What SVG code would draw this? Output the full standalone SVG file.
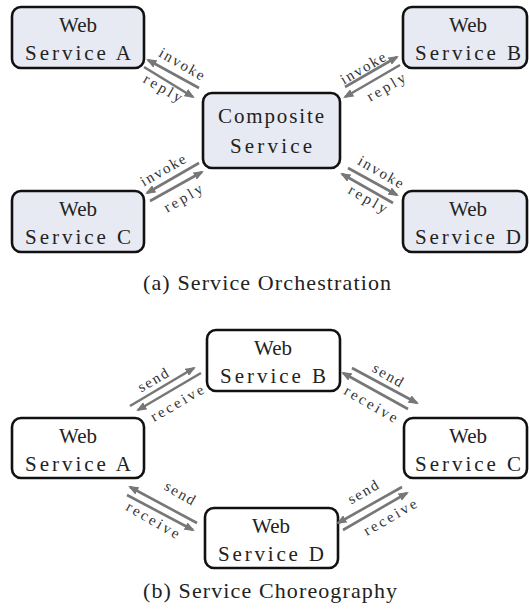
<svg xmlns="http://www.w3.org/2000/svg" width="529" height="611" viewBox="0 0 529 611">
<style>
.box{stroke:#111;stroke-width:2.6}
.a .box{fill:#e7eaf2}
.b .box{fill:#fff}
.nt{font-family:"Liberation Serif","DejaVu Serif",serif;font-size:21px;fill:#222;text-anchor:middle}
.lbl{font-family:"Liberation Serif","DejaVu Serif",serif;font-size:15px;fill:#333;text-anchor:middle}
.cap{font-family:"Liberation Serif","DejaVu Serif",serif;font-size:22px;fill:#222;text-anchor:middle}
.ar{stroke:#777;stroke-width:2.6;fill:none;marker-end:url(#ah)}
</style>
<defs>
<marker id="ah" viewBox="0 0 10 8" refX="8" refY="4" markerWidth="4" markerHeight="3.2" orient="auto" markerUnits="strokeWidth">
<path d="M0,0 L10,4 L0,8 z" fill="#777"/>
</marker>
</defs>
<rect width="529" height="611" fill="#fff"/>
<!-- Part (a) -->
<g class="a">
<g id="a-ws-a"><rect class="box" x="12" y="7" width="132" height="61" rx="9"/><text class="nt" x="78" y="32">Web</text><text class="nt" x="78" y="60" textLength="106" lengthAdjust="spacing">Service A</text></g>
<g id="a-ws-b"><rect class="box" x="403" y="7" width="124" height="61" rx="9"/><text class="nt" x="468" y="32">Web</text><text class="nt" x="468" y="60" textLength="106" lengthAdjust="spacing">Service B</text></g>
<g id="a-composite"><rect class="box" x="203" y="93" width="137" height="75" rx="9"/><text class="nt" x="271" y="123" textLength="106" lengthAdjust="spacing">Composite</text><text class="nt" x="271" y="153" textLength="82" lengthAdjust="spacing">Service</text></g>
<g id="a-ws-c"><rect class="box" x="12" y="191" width="132" height="61" rx="9"/><text class="nt" x="78" y="216">Web</text><text class="nt" x="78" y="244" textLength="106" lengthAdjust="spacing">Service C</text></g>
<g id="a-ws-d"><rect class="box" x="403" y="191" width="124" height="61" rx="9"/><text class="nt" x="468" y="216">Web</text><text class="nt" x="468" y="244" textLength="106" lengthAdjust="spacing">Service D</text></g>
</g>
<g id="a-connectors">
<line class="ar" x1="199" y1="88" x2="148" y2="60"/>
<line class="ar" x1="144" y1="67" x2="193" y2="97"/>
<line class="ar" x1="345" y1="87" x2="397" y2="57"/>
<line class="ar" x1="400" y1="65" x2="345" y2="97"/>
<line class="ar" x1="199" y1="163" x2="147" y2="193"/>
<line class="ar" x1="150" y1="201" x2="202" y2="172"/>
<line class="ar" x1="348" y1="168" x2="397" y2="195"/>
<line class="ar" x1="393" y1="203" x2="342" y2="174"/>
<text class="lbl" transform="translate(182,64) rotate(30)" dy="5" textLength="50" lengthAdjust="spacing">invoke</text>
<text class="lbl" transform="translate(163,88) rotate(30)" dy="5" textLength="42" lengthAdjust="spacing">reply</text>
<text class="lbl" transform="translate(363,68) rotate(-30)" dy="5" textLength="50" lengthAdjust="spacing">invoke</text>
<text class="lbl" transform="translate(386,87) rotate(-30)" dy="5" textLength="42" lengthAdjust="spacing">reply</text>
<text class="lbl" transform="translate(163,170) rotate(-30)" dy="5" textLength="50" lengthAdjust="spacing">invoke</text>
<text class="lbl" transform="translate(183,198) rotate(-30)" dy="5" textLength="42" lengthAdjust="spacing">reply</text>
<text class="lbl" transform="translate(381,172) rotate(30)" dy="5" textLength="50" lengthAdjust="spacing">invoke</text>
<text class="lbl" transform="translate(368,199) rotate(30)" dy="5" textLength="42" lengthAdjust="spacing">reply</text>
</g>
<text class="cap" x="267" y="290" textLength="248" lengthAdjust="spacing">(a) Service Orchestration</text>
<!-- Part (b) -->
<g class="b">
<g id="b-ws-b"><rect class="box" x="207" y="330" width="133" height="61" rx="9"/><text class="nt" x="273" y="355">Web</text><text class="nt" x="273" y="383" textLength="106" lengthAdjust="spacing">Service B</text></g>
<g id="b-ws-a"><rect class="box" x="12" y="418" width="132" height="60" rx="9"/><text class="nt" x="78" y="443">Web</text><text class="nt" x="78" y="471" textLength="106" lengthAdjust="spacing">Service A</text></g>
<g id="b-ws-c"><rect class="box" x="404" y="418" width="123" height="60" rx="9"/><text class="nt" x="468" y="443">Web</text><text class="nt" x="468" y="471" textLength="106" lengthAdjust="spacing">Service C</text></g>
<g id="b-ws-d"><rect class="box" x="205" y="508" width="133" height="60" rx="9"/><text class="nt" x="271" y="533">Web</text><text class="nt" x="271" y="561" textLength="106" lengthAdjust="spacing">Service D</text></g>
</g>
<g id="b-connectors">
<line class="ar" x1="130" y1="406" x2="194" y2="368"/>
<line class="ar" x1="201" y1="373" x2="138" y2="410"/>
<line class="ar" x1="352" y1="368" x2="417" y2="403"/>
<line class="ar" x1="408" y1="409" x2="343" y2="373"/>
<line class="ar" x1="197" y1="523" x2="130" y2="487"/>
<line class="ar" x1="127" y1="495" x2="193" y2="530"/>
<line class="ar" x1="402" y1="487" x2="338" y2="523"/>
<line class="ar" x1="343" y1="530" x2="407" y2="493"/>
<text class="lbl" transform="translate(153,380) rotate(-30)" dy="5" textLength="33" lengthAdjust="spacing">send</text>
<text class="lbl" transform="translate(177,403) rotate(-30)" dy="5" textLength="59" lengthAdjust="spacing">receive</text>
<text class="lbl" transform="translate(388,375) rotate(30)" dy="5" textLength="33" lengthAdjust="spacing">send</text>
<text class="lbl" transform="translate(371,404) rotate(30)" dy="5" textLength="59" lengthAdjust="spacing">receive</text>
<text class="lbl" transform="translate(180,493) rotate(30)" dy="5" textLength="33" lengthAdjust="spacing">send</text>
<text class="lbl" transform="translate(153,520) rotate(30)" dy="5" textLength="59" lengthAdjust="spacing">receive</text>
<text class="lbl" transform="translate(363,492) rotate(-30)" dy="5" textLength="33" lengthAdjust="spacing">send</text>
<text class="lbl" transform="translate(390,517) rotate(-30)" dy="5" textLength="59" lengthAdjust="spacing">receive</text>
</g>
<text class="cap" x="270" y="598" textLength="254" lengthAdjust="spacing">(b) Service Choreography</text>
</svg>
